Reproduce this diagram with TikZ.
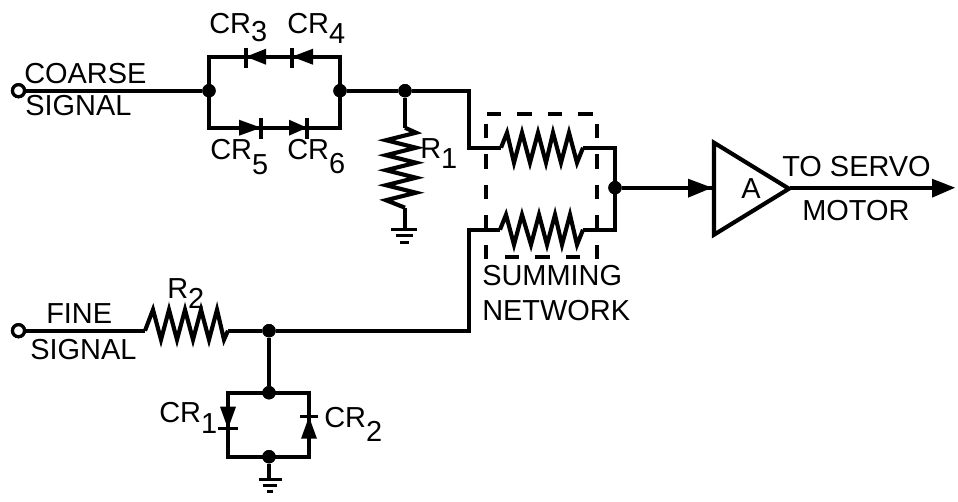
\documentclass[tikz,border=0pt]{standalone}
\usepackage{fontspec}
\setmainfont{Liberation Sans}
\newcommand{\subdrop}[2]{\raisebox{-#1pt}{#2}}
\tikzset{
  wire/.style={line width=3.1pt,line cap=butt,line join=miter,miter limit=10},
  dot/.style={circle,fill=black,inner sep=0pt,minimum size=10pt},
  term/.style={circle,draw=black,fill=white,line width=2.4pt,inner sep=0pt,minimum size=9pt},
  lbl/.style={anchor=base west,inner sep=0pt,font=\fontsize{21.7pt}{24pt}\selectfont,text=black},
  diodefill/.style={fill=black,draw=none},
  bar/.style={line width=2.6pt},
  box/.style={line width=2.8pt,dash pattern=on 10.8pt off 12pt},
  tip/.style={fill=black,draw=none}
}
\begin{document}
\begin{tikzpicture}[x=0.75pt,y=-0.75pt]
\useasboundingbox (0,-0.7) rectangle (958,500.3);
% named points
\node[term] (t1) at (18.5,90) {};
\node[term] (t2) at (18.5,330) {};
\node[dot] (j1) at (209,90) {};
\node[dot] (j2) at (340,90) {};
\node[dot] (j3) at (405,90) {};
\node[dot] (j4) at (615,187) {};
\node[dot] (j5) at (269,330) {};
\node[dot] (j6) at (269,392) {};
\node[dot] (j7) at (269,456) {};
\coordinate (ul) at (209,56);
\coordinate (ur) at (340,56);
\coordinate (ll) at (209,127);
\coordinate (lr) at (340,127);
\coordinate (bl) at (228,392);
\coordinate (br) at (309,392);
\coordinate (cl) at (228,456);
\coordinate (cr) at (309,456);
\coordinate (g1) at (405,228);
\coordinate (g2) at (269,478);
\coordinate (a1) at (469,90);
\coordinate (a2) at (469,147);
\coordinate (b1) at (469,229);
\coordinate (b2) at (469,330);
\coordinate (c1) at (615,147);
\coordinate (c2) at (615,229);
\coordinate (r1a) at (501,147);
\coordinate (r1b) at (583,147);
\coordinate (r2a) at (500,229);
\coordinate (r2b) at (583,229);
\coordinate (r3a) at (405,127);
\coordinate (r3b) at (405,207);
\coordinate (r4a) at (145,330);
\coordinate (r4b) at (228,330);
\coordinate (ain) at (714,187);
\coordinate (aout) at (790,187);
\coordinate (outend) at (932,187);
% wires
\draw[wire] (t1) -- (j1);
\draw[wire] (j2) -- (j3) -- (a1) -- (a2) -- (r1a);
\draw[wire] (ll) -- (ul) -- (ur) -- (lr) -- cycle;
\draw[wire] (j3) -- (r3a);
\draw[wire] (r3b) -- (g1);
\draw[wire] (r1b) -- (c1) -- (c2) -- (r2b);
\draw[wire] (r2a) -- (b1) -- (b2) -- (j5) -- (r4b);
\draw[wire] (t2) -- (r4a);
\draw[wire] (j5) -- (j6);
\draw[wire] (bl) -- (br) -- (cr) -- (cl) -- cycle;
\draw[wire] (j7) -- (g2);
\draw[wire] (j4) -- (ain);
\draw[wire] (aout) -- (outend);
% terminals on top of wires
\node[term] at (t1) {};
\node[term] at (t2) {};
% resistors
\draw[wire] (r1a) -- (507,132) -- (514,162) -- (522,132) -- (530,162) -- (538,132) -- (546,162) -- (553,132) -- (561,162) -- (569,132) -- (577,162) -- (r1b);
\draw[wire] (r2a) -- (506,214) -- (514,244) -- (522,214) -- (531,244) -- (539,214) -- (547,244) -- (555,214) -- (562,244) -- (570,214) -- (577,244) -- (r2b);
\draw[wire] (r3a) -- (416,132) -- (386,139.5) -- (416,147) -- (386,154.5) -- (416,162) -- (386,169.5) -- (416,177) -- (386,184.5) -- (416,192) -- (386,199.5) -- (r3b);
\draw[wire] (r4a) -- (153,309) -- (161,339) -- (169,309) -- (177,339) -- (185,309) -- (193,339) -- (201,309) -- (209,339) -- (217,309) -- (224,339) -- (r4b);
% diodes
\fill[diodefill] (246,56) -- (266,48) -- (266,64) -- cycle;
\draw[bar] (246,47) -- (246,67);
\fill[diodefill] (292,56) -- (313,48) -- (313,64) -- cycle;
\draw[bar] (292,47) -- (292,67);
\fill[diodefill] (261,127) -- (239,119) -- (239,135) -- cycle;
\draw[bar] (261,117) -- (261,138);
\fill[diodefill] (307,127) -- (289,119) -- (289,135) -- cycle;
\draw[bar] (307,117) -- (307,138);
\fill[diodefill] (228,428) -- (220,406) -- (236,406) -- cycle;
\draw[bar] (218,428) -- (238,428);
\fill[diodefill] (309,416) -- (301,438) -- (317,438) -- cycle;
\draw[bar] (300,416) -- (318,416);
% grounds
\draw[bar] (391,229) -- (417,229) (396,235) -- (413,235) (400,242) -- (409,242);
\draw[bar] (259,479) -- (282,479) (263,485) -- (277,485) (267,491) -- (273,491);
% summing box
\draw[box] (487,113) -- (593,113);
\draw[box] (597,123) -- (597,258);
\draw[box] (486,123) -- (486,258);
\draw[box] (505,256) -- (580,256);
% amplifier
\draw[wire] (714,142) -- (714,234) -- (789,188) -- cycle;
\fill[tip] (712,187) -- (688,178) -- (688,197) -- cycle;
\fill[tip] (955,187) -- (932,178) -- (932,197) -- cycle;
% labels
\node[lbl] (l1) at (24,83) {COARSE};
\node[lbl] (l2) at (25,115) {SIGNAL};
\node[lbl] (l3) at (209,33) {CR\subdrop{6}{3}};
\node[lbl] (l4) at (287,33) {CR\subdrop{7.5}{4}};
\node[lbl] (l5) at (210,159) {CR\subdrop{11}{5}};
\node[lbl] (l6) at (287,159) {CR\subdrop{10}{6}};
\node[lbl] (l7) at (420,158) {R\subdrop{7.5}{1}};
\node[lbl] (l8) at (167,298) {R\subdrop{7.5}{2}};
\node[lbl] (l9) at (46,323) {FINE};
\node[lbl] (l10) at (30,359) {SIGNAL};
\node[lbl] (l11) at (159,422) {CR\subdrop{8}{1}};
\node[lbl] (l12) at (324,427) {CR\subdrop{10}{2}};
\node[lbl] (l13) at (482,285) {SUMMING};
\node[lbl] (l14) at (482,320) {NETWORK};
\node[lbl] (l15) at (741,198) {A};
\node[lbl] (l16) at (782,176) {TO SERVO};
\node[lbl] (l17) at (802,220) {MOTOR};
% junction dots on top
\foreach \n in {j1,j2,j3,j4,j5,j6,j7} \node[dot] at (\n) {};
\end{tikzpicture}
\end{document}
